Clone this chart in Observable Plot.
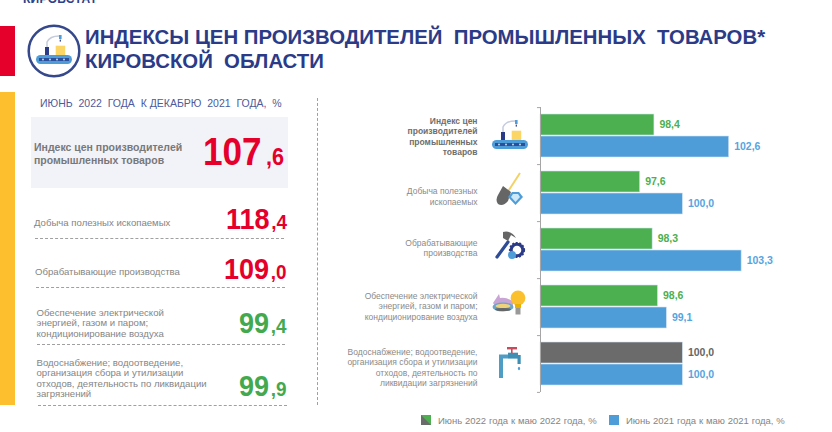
<!DOCTYPE html>
<html lang="ru">
<head>
<meta charset="utf-8">
<script src="https://cdn.jsdelivr.net/npm/d3@7"></script>
<script src="https://cdn.jsdelivr.net/npm/@observablehq/plot@0.6"></script>
<style>
html,body{margin:0;padding:0;background:#fff;overflow:hidden}
#page{position:relative;width:832px;height:432px;overflow:hidden;font-family:"Liberation Sans",Arial,sans-serif}
#page>svg{position:absolute;left:0;top:0;overflow:visible}
.t{position:absolute;white-space:nowrap}
.b{position:absolute}
.d{position:absolute;border-top:1px dashed #a0a0a0;height:0}
</style>
</head>
<body>
<div id="page"></div>
<script>
const categories = [
  "Индекс цен\nпроизводителей\nпромышленных\nтоваров",
  "Добыча полезных\nископаемых",
  "Обрабатывающие\nпроизводства",
  "Обеспечение электрической\nэнергией, газом и паром;\nкондиционирование воздуха",
  "Водоснабжение; водоотведение,\nорганизация сбора и утилизации\nотходов, деятельность по\nликвидации загрязнений"
];
const series = ["Июнь 2022 года к маю 2022 года, %", "Июнь 2021 года к маю 2021 года, %"];
const values2022 = [98.4, 97.6, 98.3, 98.6, 100.0];
const values2021 = [102.6, 100.0, 103.3, 99.1, 100.0];

const title = ["ИНДЕКСЫ ЦЕН ПРОИЗВОДИТЕЛЕЙ  ПРОМЫШЛЕННЫХ  ТОВАРОВ*", "КИРОВСКОЙ  ОБЛАСТИ"];
const subtitle = "ИЮНЬ  2022  ГОДА  К ДЕКАБРЮ  2021  ГОДА,  %";
const panelLabels = [
  "Индекс цен производителей<br>промышленных товаров",
  "Добыча полезных ископаемых",
  "Обрабатывающие производства",
  "Обеспечение электрической<br>энергией, газом и паром;<br>кондиционирование воздуха",
  "Водоснабжение; водоотведение,<br>организация сбора и утилизации<br>отходов, деятельность по ликвидации<br>загрязнений"
];
const panelValues = [107.6, 118.4, 109.0, 99.4, 99.9];

const GREEN = "#4caf50", BLUE = "#4f9dd8", GREY = "#6b6b6b";
const rows = categories.flatMap((c, i) => [
  {category: c, series: series[0], value: values2022[i]},
  {category: c, series: series[1], value: values2021[i]}
]);
const fillOf = d => d.series === series[1] ? BLUE : d.value === 100 ? GREY : GREEN;
const textOf = d => d.series === series[1] ? "#56a5e0" : d.value === 100 ? "#666" : GREEN;
const fmt = v => v.toFixed(1).replace(".", ",");

const labelDy = [0, 3, -2.5, -1, 3];
const labelMarks = categories.map((c, i) => Plot.text([c], {
  fy: d => d, text: d => d, frameAnchor: "left", textAnchor: "end", dx: -63, dy: labelDy[i],
  fontSize: 8.5, lineHeight: 1.22, fill: i === 0 ? "#6e6e6e" : "#8a8a8a", fontWeight: i === 0 ? "bold" : "normal",
  style: {wordSpacing: "0.6px"}
}));

const plot = Plot.plot({
  width: 832, height: 432,
  marginLeft: 540, marginRight: 78.4, marginTop: 106, marginBottom: 40,
  style: {background: "transparent", fontFamily: "'Liberation Sans',Arial,sans-serif"},
  x: {domain: [92, 104], axis: null},
  fy: {domain: categories, padding: 0, axis: null},
  y: {domain: series, paddingInner: 0.05, paddingOuter: 0.3, axis: null},
  marks: [
    Plot.barX(rows, {fy: "category", y: "series", x1: 92, x2: "value", fill: fillOf, stroke: "#cfe3f3", strokeWidth: 0.6}),
    Plot.text(rows, {fy: "category", y: "series", x: "value", text: d => fmt(d.value), dx: 5, textAnchor: "start",
      fill: textOf, fontSize: 10.5, fontWeight: "bold", style: {letterSpacing: "-0.15px"}}),
    Plot.ruleX(categories, {fy: d => d, x: () => 92, stroke: "#a6a6a6", strokeWidth: 1}),
    Plot.ruleY(categories, {fy: d => d, y: () => series[0], x1: 91.83, x2: 92, dy: -17.4, stroke: "#a6a6a6"}),
    Plot.ruleY(categories.slice(-1), {fy: d => d, y: () => series[1], x1: 91.83, x2: 92, dy: 17.4, stroke: "#a6a6a6"}),
    ...labelMarks
  ]
});

const page = document.getElementById("page");
function box(x, y, w, h, bg) { const e = document.createElement("div"); e.className = "b"; e.style.cssText = `left:${x}px;top:${y}px;width:${w}px;height:${h}px;background:${bg}`; page.append(e); }
function text(html, x, y, css) { const e = document.createElement("div"); e.className = "t"; e.innerHTML = html; e.style.cssText = `left:${x}px;top:${y}px;${css}`; page.append(e); return e; }
function dash(x, y, w) { const e = document.createElement("div"); e.className = "d"; e.style.cssText = `left:${x}px;top:${y}px;width:${w}px`; page.append(e); }

box(0, 26, 15, 50, "#e4002b");
box(0, 92, 15, 313, "#fdbf2d");
box(31, 117, 257, 71, "#f2f3f9");
text("КИРОВСТАТ", 23, -8, "font:bold 12px 'Liberation Sans';color:#2f4287;letter-spacing:.3px");
text(title[0].replace(/  /g, "&nbsp;&nbsp;") + "<br>" + title[1].replace(/  /g, "&nbsp;&nbsp;"), 85, 24.5, "font:bold 21px/24px 'Liberation Sans';color:#2b3b87;transform-origin:0 0;transform:scaleX(.97)");
text(subtitle.replace(/  /g, "&nbsp;&nbsp;"), 40, 97, "font:10.5px 'Liberation Sans';color:#4d5a9b");

const panelPos = [[34, 141, "bold 10.5px/12.5px", "#787878"], [34, 217, "9.6px/12px", "#858585"], [35, 266, "9.6px/12px", "#858585"], [36.5, 308, "9.6px/10.35px", "#858585"], [36.5, 358, "9.6px/10.35px", "#858585"]];
panelLabels.forEach((l, i) => { const p = panelPos[i]; text(l, p[0], p[1], `font:${p[2]} 'Liberation Sans';color:${p[3]}`); });

const numPos = [[203, 132, 39, 24, 5], [226, 204, 30, 21, 2], [224, 254, 30, 21, 2], [239, 308.3, 30, 21, 2], [239, 370.6, 30, 21, 2]];
panelValues.forEach((v, i) => {
  const [a, b] = v.toFixed(1).split("."), p = numPos[i], c = v >= 100 ? "#e4002b" : "#43a94e";
  text(`${a}<span style="font-size:${p[3]}px;margin-left:${p[4]}px">,${b}</span>`, p[0], p[1], `font:bold ${p[2]}px/1 'Liberation Sans';color:${c};transform-origin:0 0;transform:scaleX(.9)`);
});
dash(35, 238, 249); dash(36, 287, 249); dash(37, 344, 248); dash(38, 405, 249);
const v = document.createElement("div"); v.style.cssText = "position:absolute;left:317px;top:98px;height:307px;border-left:1px dashed #a0a0a0"; page.append(v);

const lg = document.createElement("div");
lg.innerHTML = `<svg width="832" height="432" style="position:absolute;left:0;top:0">
<rect x="421" y="415" width="10" height="10" fill="${GREY}"/><path d="M421 415H431V425Z" fill="${GREEN}"/>
<rect x="609" y="415" width="10" height="10" fill="${BLUE}"/></svg>`;
page.append(lg);
text(series[0], 438, 415, "font:9.5px 'Liberation Sans';color:#858585;word-spacing:.2px");
text(series[1], 626, 415, "font:9.5px 'Liberation Sans';color:#858585;word-spacing:.2px");

page.append(plot);

// pictograms
const conveyor = `<rect x="0" y="20" width="36" height="9" rx="4.5" fill="#4f9dd8"/><rect x="3" y="23" width="30" height="3" fill="#2b4f9a"/>
<g fill="#bcd9f0"><circle cx="7" cy="24.5" r="1"/><circle cx="14" cy="24.5" r="1"/><circle cx="21" cy="24.5" r="1"/><circle cx="28" cy="24.5" r="1"/></g>
<rect x="19.7" y="10.7" width="9.5" height="9.3" fill="#fbd566"/><rect x="9" y="12" width="4" height="8" fill="#2b3b87"/><path d="M11 12V7Q14 1 23 1" fill="none" stroke="#c5cbdd" stroke-width="1.5"/><rect x="23" y="0" width="2.6" height="4" fill="#4f9dd8"/><rect x="23.7" y="4.6" width="1.2" height="2" fill="#2b3b87"/>`;
const ic = document.createElement("div");
ic.innerHTML = `<svg width="832" height="432" style="position:absolute;left:0;top:0">
<circle cx="54" cy="51" r="25.3" fill="#fff" stroke="#34488b" stroke-width="2.5"/>
<g transform="translate(36,35)">${conveyor}</g>
<g transform="translate(492,120)">${conveyor}</g>
<path d="M520 173L507 193" stroke="#f3d163" stroke-width="2"/><path d="M503 186L511 192L508 201Q503 207 498 204Q495 200 498 195Z" fill="#666"/>
<path d="M508 197L512 192H519L523 197L515.5 205Z" fill="#4f9dd8"/><path d="M511 197L513 194H518L520 197L515.5 202Z" fill="#cfe8f7"/>
<path d="M497 257L508 242" stroke="#2f4c97" stroke-width="3.2" stroke-linecap="round"/><path d="M503 232Q511 230 516 238L511 235L508 241L503 238Z" fill="#666"/>
<circle cx="517" cy="250" r="5.8" fill="none" stroke="#2b3b87" stroke-width="3"/><circle cx="517" cy="250" r="7.2" fill="none" stroke="#2b3b87" stroke-width="1.8" stroke-dasharray="2 1.6"/><circle cx="512" cy="255" r="4" fill="#4f9dd8"/>
<path d="M493 303L499 294L500 298Q508 297 513 302L513 306L495 306Z" fill="#c9a5d6"/><ellipse cx="503" cy="307" rx="10.5" ry="4.5" fill="#6aa6c9"/><ellipse cx="503" cy="306" rx="7.5" ry="2.2" fill="#f0d27a"/><ellipse cx="503" cy="309.5" rx="8" ry="1.6" fill="#666"/>
<circle cx="518" cy="298" r="7.4" fill="#fbc02d"/><path d="M515 304H521V308H515Z" fill="#e8b200"/><rect x="515.5" y="308" width="5" height="6.5" fill="#999"/>
<path d="M501 378V356.5H518" fill="none" stroke="#4f9dc4" stroke-width="4"/><rect x="508" y="352.7" width="10" height="5.6" fill="#3f8fb5"/><rect x="511" y="349" width="1.6" height="4" fill="#c94a5a"/><rect x="507" y="347" width="10" height="2.4" fill="#c94a5a"/><rect x="517.5" y="355" width="3.2" height="9" fill="#3f8fb5"/><ellipse cx="519" cy="368.5" rx="1.1" ry="1.8" fill="#4f9dd8"/>
</svg>`;
page.append(ic);
</script>
</body>
</html>
